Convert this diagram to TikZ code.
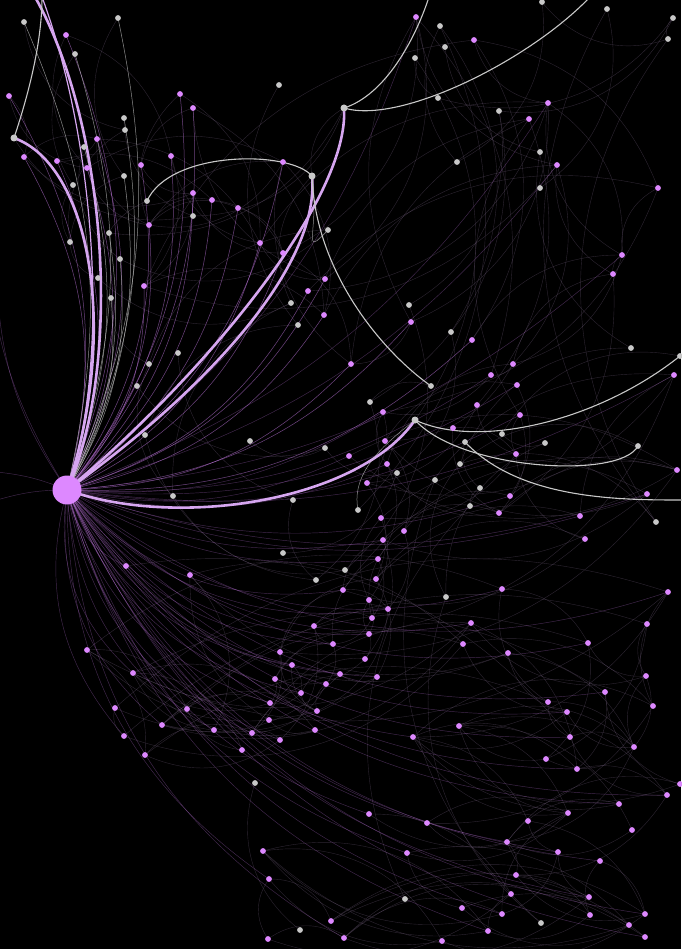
\documentclass[tikz,border=0pt]{standalone}
\usetikzlibrary{calc}
\definecolor{pinkdot}{RGB}{221,136,255}
\definecolor{pinkedge}{RGB}{214,166,240}
\definecolor{greydot}{RGB}{200,200,200}
\definecolor{faintc}{RGB}{120,100,130}
\begin{document}
\begin{tikzpicture}[x=1pt,y=-1pt,
  dotp/.style={circle,fill=pinkdot,inner sep=0pt,minimum size=5.8pt},
  dotg/.style={circle,fill=greydot,inner sep=0pt,minimum size=5.8pt},
  hubstyle/.style={circle,fill=pinkdot,inner sep=0pt,minimum size=29pt},
  thickedge/.style={draw=pinkedge,line width=2.6pt},
  midedge/.style={draw=pinkedge,line width=1.2pt},
  greyedge/.style={draw=greydot,line width=1.1pt},
  greythin/.style={draw=greydot,line width=0.5pt,opacity=0.7},
  hubedge/.style={draw=pinkdot,line width=0.5pt,opacity=0.5},
  hubfaint/.style={draw=pinkdot,line width=0.45pt,opacity=0.3},
  faint/.style={draw=faintc,line width=0.4pt,opacity=0.38}]
\fill[black] (0,0) rectangle (681,949);
\useasboundingbox (0,0) rectangle (681,949);
% coordinates of nodes
\foreach [count=\i] \x/\y in {9/96,66/35,24/157,57/161,87/168,97/139,141/165,171/156,180/94,193/108,
193/193,212/200,238/208,149/225,260/243,283/253,283/162,325/279,308/291,324/315,
144/286,351/364,411/322,472/340,416/17,474/40,548/103,529/119,557/165,658/188,
622/255,613/274,491/375,513/364,517/385,477/405,520/415,453/428,383/412,385/441,
349/456,367/483,387/464,516/454,510/496,499/513,580/516,585/539,647/494,677/470,
674/375,381/518,383/540,404/531,378/559,376/579,343/590,369/600,388/609,372/618,
369/634,314/626,333/644,280/652,292/665,365/659,340/674,326/684,377/677,275/679,
301/693,317/711,270/703,269/720,280/740,315/730,252/733,242/750,214/730,187/709,
162/725,115/708,124/736,145/755,133/673,87/650,126/566,190/575,471/623,463/644,
502/589,508/653,588/643,647/624,668/592,646/676,605/692,548/702,567/712,653/706,
570/737,546/759,577/769,634/747,667/795,680/784,619/804,632/830,413/737,459/726,
369/814,427/823,507/842,528/821,558/852,568/813,600/861,516/875,407/853,511/894,
589/897,462/908,502/914,590/915,645/914,629/925,488/931,331/921,344/938,442/941,
645/937,263/851,269/879,268/939}
  {\coordinate (cp\i) at (\x,\y);}
\foreach [count=\i] \x/\y in {24/22,118/18,75/54,14/138,124/118,125/130,84/147,73/185,124/176,147/201,
193/216,109/233,70/242,120/259,98/278,111/298,279/85,344/108,312/176,328/230,
298/325,291/303,149/364,178/353,137/386,145/435,250/441,173/496,293/500,325/448,
283/553,316/580,345/570,358/510,397/473,415/420,431/386,370/402,409/305,451/332,
440/26,445/47,415/58,438/98,499/111,540/152,540/188,457/162,542/2,607/9,
673/18,668/39,631/348,680/356,638/446,656/522,465/442,460/464,502/434,545/443,
435/480,480/488,470/506,446/597,255/783,405/899,300/930,541/923}
  {\coordinate (cg\i) at (\x,\y);}
\coordinate (hubc) at (67,490);
\coordinate (top1) at (42,-3);
\coordinate (top2) at (35,-3);
\coordinate (top3) at (429,-3);
\coordinate (top4) at (590,-3);
\coordinate (right1) at (684,500);
\coordinate (left1) at (-3,472);
\coordinate (left2) at (-3,500);
\coordinate (left3) at (-3,290);
\coordinate (left4) at (-3,160);
% faint local arcs
\pgfmathsetseed{11}
\foreach \a in {1,...,134}{
  \pgfmathtruncatemacro\b{\a+random(1,9)}
  \pgfmathtruncatemacro\c{\a+random(2,14)}
  \ifnum\b<135 \draw[faint] (cp\a) to[bend right=35] (cp\b); \fi
  \ifnum\c<135 \draw[faint] (cp\c) to[bend right=30] (cp\a); \fi
}
\foreach \a in {1,...,68}{
  \pgfmathtruncatemacro\b{\a+random(1,7)}
  \ifnum\b<69 \draw[faint] (cg\a) to[bend right=35] (cg\b); \fi
}
% hub edges to pink nodes
\foreach \i in {1,...,24}{\draw[hubedge] (hubc) to[bend right=22] (cp\i);}
\foreach \i in {25,27,...,55}{\draw[hubfaint] (hubc) to[bend right=18] (cp\i);}
\foreach \i in {57,59,...,133}{\draw[hubfaint] (hubc) to[bend right=28] (cp\i);}
\foreach \i in {1,2,3,5,7,9,12,14,16}{\draw[greythin] (hubc) to[bend right=18] (cg\i);}
\draw[hubfaint] (left1) to[bend left=8] (hubc);
\draw[hubfaint] (hubc) to[bend right=8] (left2);
\draw[hubfaint] (hubc) to[bend left=15] (left3);
\draw[hubfaint] (hubc) to[bend left=20] (left4);
% thick and grey main edges
\draw[thickedge] (cg4) .. controls (90,165) and (120,330) .. (hubc);
\draw[thickedge] (top2) .. controls (105,120) and (125,360) .. (hubc);
\draw[midedge] (top1) .. controls (95,140) and (112,360) .. (hubc);
\draw[thickedge] (hubc) .. controls (200,380) and (350,200) .. (cg18);
\draw[thickedge] (hubc) .. controls (220,380) and (320,260) .. (cg19);
\draw[thickedge] (hubc) .. controls (180,530) and (360,500) .. (cg36);
\draw[greyedge] (cg4) .. controls (30,90) and (42,40) .. (top1);
\draw[greyedge] (cg18) .. controls (385,95) and (415,40) .. (top3);
\draw[greyedge] (cg18) .. controls (400,125) and (530,60) .. (top4);
\draw[greyedge] (cg10) .. controls (170,150) and (290,150) .. (cg19);
\draw[greyedge] (cg19) .. controls (315,270) and (380,350) .. (cg37);
\draw[greyedge] (cg36) .. controls (460,470) and (620,480) .. (cg55);
\draw[greyedge] (cg36) .. controls (480,450) and (600,420) .. (cg54);
\draw[greyedge] (cg57) .. controls (520,500) and (620,500) .. (right1);
\draw[greythin] (cg34) .. controls (350,470) and (390,440) .. (cg36);
\draw[greythin] (cg19) .. controls (320,230) and (300,260) .. (cg20);
% nodes
\foreach \i in {1,...,134}{\node[dotp] (p\i) at (cp\i) {};}
\foreach \i in {1,...,68}{\node[dotg] (g\i) at (cg\i) {};}
\foreach \i in {4,18,19,36}{\node[dotg,minimum size=7pt] (G\i) at (cg\i) {};}
\node[hubstyle] (hub) at (hubc) {};
\end{tikzpicture}
\end{document}
